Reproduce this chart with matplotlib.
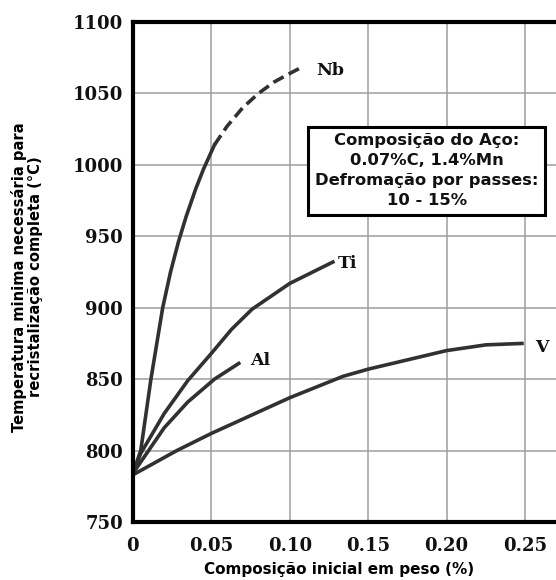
import matplotlib
matplotlib.use("Agg")
import matplotlib.pyplot as plt

# curve readings (composition %, temperature C)
nb_x = [0, 0.005, 0.0115, 0.019, 0.024, 0.029, 0.034, 0.040, 0.045, 0.052]
nb_y = [784, 800, 850, 900, 925, 946, 964, 983, 997, 1014]
nb_dash_x = [0.052, 0.060, 0.070, 0.080, 0.090, 0.100, 0.107]
nb_dash_y = [1014, 1027, 1040, 1050, 1058, 1064, 1068]
ti_x = [0, 0.005, 0.020, 0.035, 0.050, 0.063, 0.076, 0.100, 0.1275]
ti_y = [784, 798, 826, 849, 868, 885, 899, 917, 932]
al_x = [0, 0.020, 0.035, 0.052, 0.0675]
al_y = [784, 816, 834, 850, 861]
v_x = [0, 0.028, 0.050, 0.100, 0.134, 0.150, 0.200, 0.225, 0.248]
v_y = [783, 800, 812, 837, 852, 857, 870, 874, 875]

labels = ["Nb", "Ti", "Al", "V"]
label_x = [0.1166, 0.1306, 0.0745, 0.2567]
label_y = [1066, 931, 863, 872]

xticks = [0, 0.05, 0.10, 0.15, 0.20, 0.25]
xtick_labels = ["0", "0.05", "0.10", "0.15", "0.20", "0.25"]
yticks = [750, 800, 850, 900, 950, 1000, 1050, 1100]

box_text = "Composição do Aço:\n0.07%C, 1.4%Mn\nDefromação por passes:\n10 - 15%"

fig = plt.figure(figsize=(5.56, 5.80), dpi=100)
ax = fig.add_axes([0.239, 0.1, 0.79, 0.862])

line_col = "#333033"
ax.plot(nb_x, nb_y, color=line_col, lw=2.6, solid_joinstyle="round")
ax.plot(nb_dash_x, nb_dash_y, color=line_col, lw=2.6, ls=(0, (3.2, 1.6)))
ax.plot(ti_x, ti_y, color=line_col, lw=2.6, solid_joinstyle="round")
ax.plot(al_x, al_y, color=line_col, lw=2.6, solid_joinstyle="round")
ax.plot(v_x, v_y, color=line_col, lw=2.6, solid_joinstyle="round")

for lab, lx, ly in zip(labels, label_x, label_y):
    ax.text(lx, ly, lab, family="DejaVu Serif", fontweight="bold",
            fontsize=12.5, ha="left", va="center", color="#111111")

ax.text(0.1873, 996, box_text, family="DejaVu Sans", fontweight="bold",
        fontsize=11.8, ha="center", va="center", linespacing=1.4,
        color="#111111",
        bbox=dict(boxstyle="square,pad=0.42", fc="white", ec="black", lw=2.2))

ax.set_xlim(0, 0.28)
ax.set_ylim(750, 1100)
ax.set_xticks(xticks)
ax.set_xticklabels(xtick_labels)
ax.set_yticks(yticks)
ax.grid(True, color="#9a9fa3", lw=1.1)
ax.set_axisbelow(True)
ax.tick_params(axis="x", length=0, pad=11)
ax.tick_params(axis="y", length=0, pad=7)
for lab in ax.get_xticklabels() + ax.get_yticklabels():
    lab.set_family("DejaVu Serif")
    lab.set_fontweight("bold")
    lab.set_fontsize(13)
    lab.set_color("#111111")
for s in ax.spines.values():
    s.set_linewidth(3)
    s.set_color("black")

ax.set_xlabel("Composição inicial em peso (%)", family="DejaVu Sans",
              fontweight="bold", fontsize=11)
ax.xaxis.set_label_coords(0.47, -0.08)
ax.set_ylabel("Temperatura minima necessária para\nrecristalização completa (°C)",
              family="DejaVu Sans", fontweight="bold", fontsize=10.6,
              linespacing=1.1)
ax.yaxis.set_label_coords(-0.205, 0.49)

fig.savefig("out.png", dpi=100)
